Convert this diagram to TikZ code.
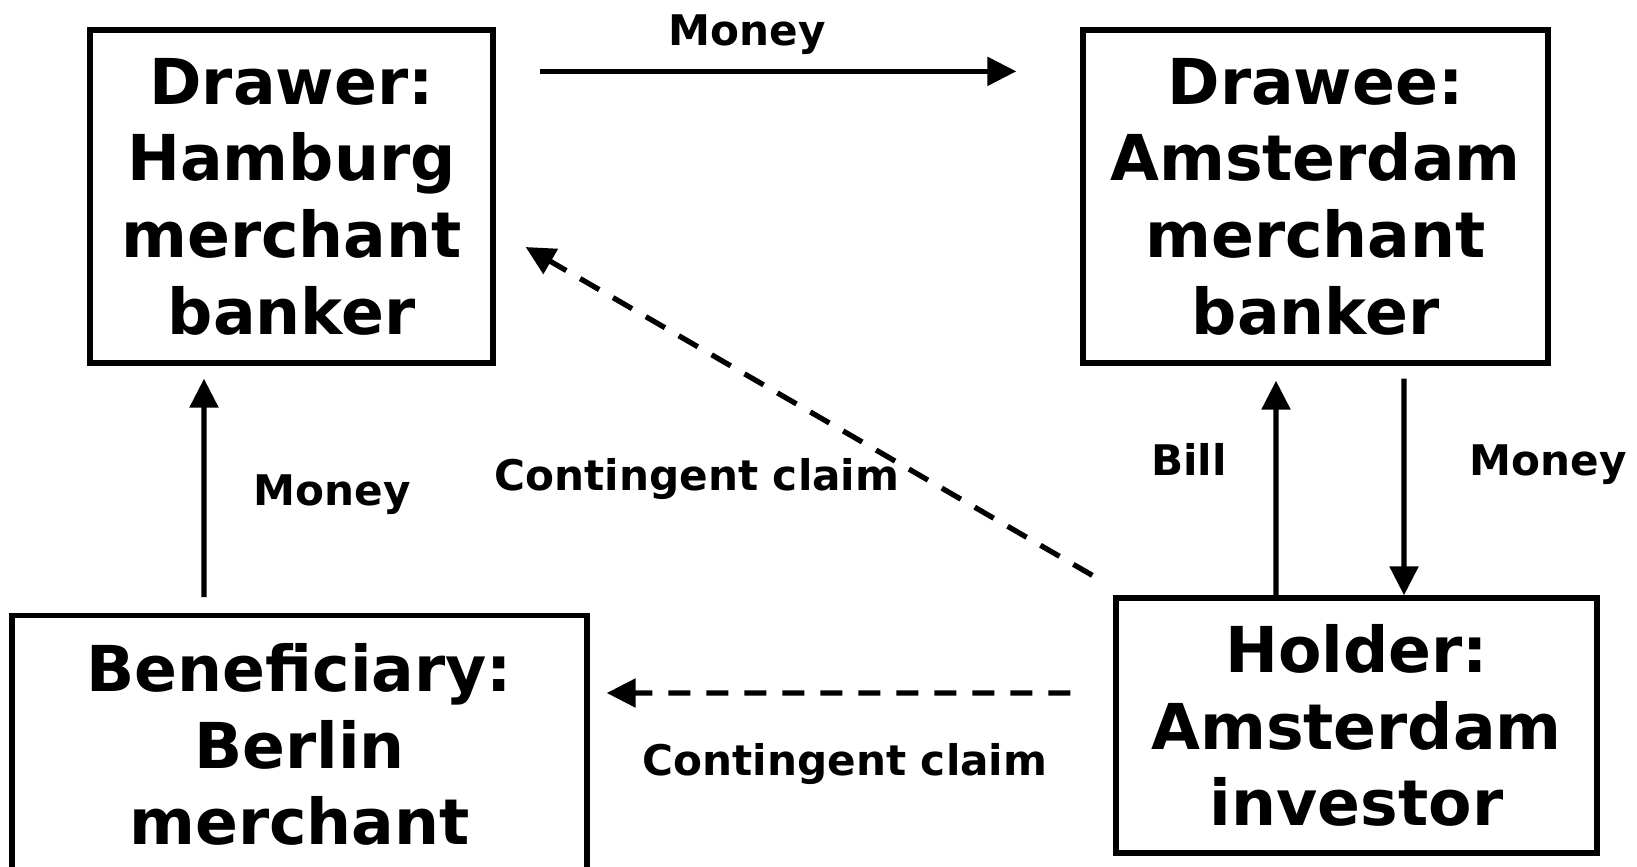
\documentclass[tikz,border=0pt]{standalone}
\usepackage{fontspec}
\setmainfont{DejaVu Sans}
\usetikzlibrary{arrows.meta, positioning, calc}

\begin{document}
\begin{tikzpicture}[
  party/.style={draw, line width=1.5pt, align=center, inner xsep=0pt,
                font=\fontsize{18}{21.8}\selectfont\bfseries},
  arr/.style={-{Triangle[length=2.9mm, width=2.8mm]}, line width=1.5pt},
  claim/.style={arr, dash pattern=on 2.2mm off 1.6mm},
  lbl/.style={anchor=base, font=\fontsize{12}{14}\selectfont\bfseries}
]
\useasboundingbox (0,0) rectangle (16.37,-8.66);
% parties
\node[party, minimum width=4.03cm, minimum height=3.33cm] (drawer) at (2.915,-1.965)
     {Drawer:\\Hamburg\\merchant\\banker};
\node[party, minimum width=4.65cm, minimum height=3.33cm] (drawee) at (13.155,-1.965)
     {Drawee:\\Amsterdam\\merchant\\banker};
\node[party, minimum width=5.75cm, anchor=north, inner ysep=2.8mm, text depth=1.2cm]
     (ben) at (2.995,-6.13) {Beneficiary:\\Berlin\\merchant};
\node[party, minimum width=4.81cm, minimum height=2.55cm] (holder) at (13.565,-7.255)
     {Holder:\\Amsterdam\\investor};
% flows
\draw[arr] ([xshift=4.4mm, yshift=-4.4mm]drawer.north east)
        -- ([xshift=-6.4mm, yshift=-4.4mm]drawee.north west);
\draw[arr] ([xshift=-9.55mm, yshift=1.6mm]ben.north)
        -- ([xshift=-8.75mm, yshift=-1.3mm]drawer.south);
\draw[arr] ([xshift=-8.05mm]holder.north) -- ([xshift=-3.95mm, yshift=-1.5mm]drawee.south);
\draw[arr] ([xshift=8.85mm, yshift=-1.3mm]drawee.south) -- ([xshift=4.75mm]holder.north);
\draw[claim] ([xshift=-2.1mm, yshift=2.0mm]holder.north west)
          -- ([xshift=3.0mm, yshift=-5.05mm]drawer.east);
\draw[claim] ([xshift=-4.3mm, yshift=3.25mm]holder.west)
          -- ([xshift=1.7mm, yshift=-8.0mm]ben.north east);
% labels
\node[lbl] (lmtop) at (7.47,-0.45) {Money};
\node[lbl] (lmleft) at (3.32,-5.05) {Money};
\node[lbl] (lcdiag) at (6.97,-4.90) {Contingent claim};
\node[lbl] (lbill) at (11.89,-4.75) {Bill};
\node[lbl] (lmright) at (15.48,-4.75) {Money};
\node[lbl] (lcbot) at (8.45,-7.75) {Contingent claim};
\end{tikzpicture}
\end{document}
